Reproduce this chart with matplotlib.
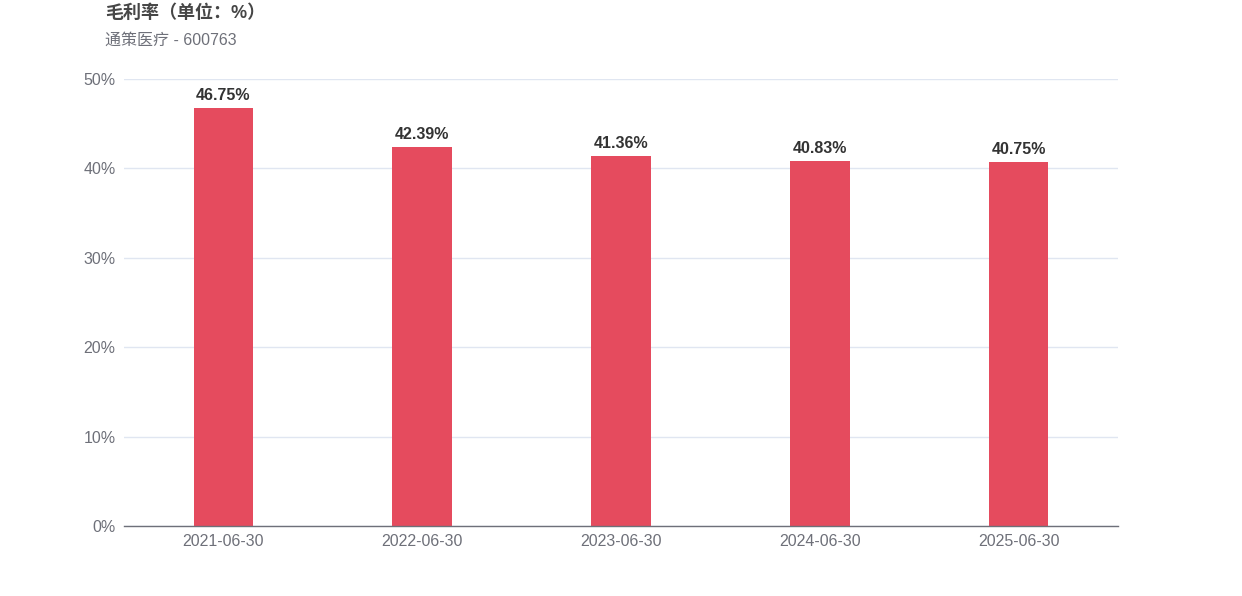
import matplotlib
matplotlib.use("Agg")
import matplotlib.pyplot as plt
from matplotlib.ticker import FuncFormatter

# data
dates = ["2021-06-30", "2022-06-30", "2023-06-30", "2024-06-30", "2025-06-30"]
gross_margin = [46.75, 42.39, 41.36, 40.83, 40.75]
y_ticks = [0, 10, 20, 30, 40, 50]

plt.rcParams['font.family'] = ['Liberation Sans', 'Noto Sans CJK SC', 'DejaVu Sans']

fig = plt.figure(figsize=(12.42, 5.96), dpi=100)
ax = fig.add_axes([124 / 1242, 1 - 526 / 596, 994 / 1242, 447 / 596])

x = range(len(dates))
bars = ax.bar(x, gross_margin, width=0.3, color="#e54b5e", zorder=2)
for b, v in zip(bars, gross_margin):
    ax.text(b.get_x() + b.get_width() / 2, v + 0.55, "%.2f%%" % v,
            ha="center", va="bottom", fontsize=11.5, fontweight="bold", color="#333333")

ax.set_xlim(-0.5, len(dates) - 0.5)
ax.set_ylim(0, 50)
ax.set_yticks(y_ticks)
ax.yaxis.set_major_formatter(FuncFormatter(lambda v, p: "%d%%" % v))
ax.set_xticks(list(x))
ax.set_xticklabels(dates)
ax.tick_params(axis="both", length=0, labelsize=11.5, labelcolor="#6e7079")
ax.tick_params(axis="y", pad=6)
ax.tick_params(axis="x", pad=6)
ax.grid(axis="y", color="#e0e6f1", linewidth=1, zorder=0)
for s in ["top", "right", "left"]:
    ax.spines[s].set_visible(False)
ax.spines["bottom"].set_color("#6e7079")
ax.spines["bottom"].set_linewidth(1)
ax.spines["bottom"].set_zorder(3)

fig.text(105 / 1242, 1 - 13 / 596, "毛利率（单位：%）", fontsize=13, fontweight="bold",
         color="#464646", ha="left", va="center")
fig.text(105 / 1242, 1 - 40 / 596, "通策医疗 - 600763", fontsize=11.5,
         color="#6e7079", ha="left", va="center")

fig.savefig("out.png", dpi=100)
